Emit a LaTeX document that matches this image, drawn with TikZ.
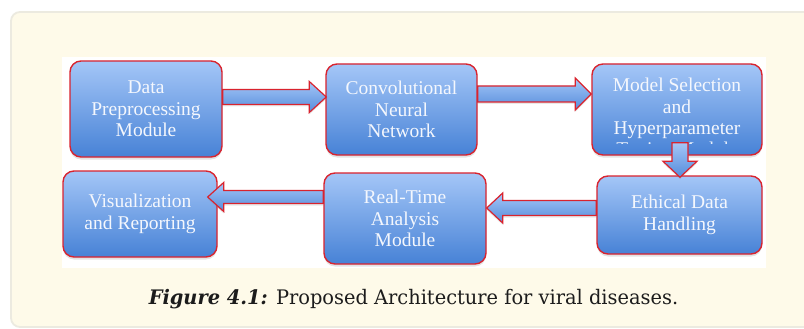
\documentclass[tikz,border=0pt]{standalone}
\usepackage{fontspec}
\setmainfont{Liberation Serif}
\newfontfamily\boxfont{Liberation Serif}
\newfontfamily\capfont[FakeStretch=0.97]{DejaVu Serif}
\usetikzlibrary{calc,shadows}

\definecolor{panelfill}{HTML}{FEFAE9}
\definecolor{panelline}{HTML}{ECEAE0}
\definecolor{boxtop}{HTML}{A4C6F7}
\definecolor{boxbot}{HTML}{4782D6}
\definecolor{boxline}{HTML}{D9232E}
\definecolor{capink}{HTML}{1C1C1C}
\definecolor{boxink}{HTML}{F4F7FD}

\tikzset{
  x=1pt, y=-1pt,
  module/.style={rounded corners=11pt, draw=boxline, line width=1.4pt,
    top color=boxtop, bottom color=boxbot, text=boxink, align=center,
    font=\boxfont\fontsize{19.5}{21.5}\selectfont, inner sep=0pt,
    drop shadow={opacity=0.22, shadow xshift=0pt, shadow yshift=-2.5pt}},
  boxtext/.style={text=boxink, align=center, font=\boxfont\fontsize{19.5}{21.5}\selectfont, inner sep=0pt},
  flowarrow/.style={draw=boxline, line width=1.2pt, line join=miter,
    top color=boxtop, bottom color=boxbot!85!boxtop,
    drop shadow={opacity=0.18, shadow xshift=0pt, shadow yshift=-2pt}},
}

% block arrow: tail, tip, shaft half-width, head half-width, head length
\newcommand{\blockarrow}[5]{%
  \coordinate (hb) at ($(#2)!#5!(#1)$);
  \path[flowarrow]
    ($(#1)!#3!90:(#2)$) -- ($(hb)!#3!-90:(#1)$) -- ($(hb)!#4!-90:(#1)$)
    -- (#2) -- ($(hb)!#4!90:(#1)$) -- ($(hb)!#3!90:(#1)$)
    -- ($(#1)!#3!-90:(#2)$) -- cycle;
}

\begin{document}
\begin{tikzpicture}
  \clip (0,0) rectangle (804,329);
  \fill[white] (0,0) rectangle (804,329);

  % cream caption panel and white figure area
  \draw[panelline, fill=panelfill, line width=1.8pt, rounded corners=9pt]
    (11,12) rectangle (840,327);
  \fill[white] (62,57) rectangle (766,268);

  % modules
  \node[module, minimum width=152pt, minimum height=96pt] (dp) at (146,109)
    {Data\\Preprocessing\\Module};
  \node[module, minimum width=151pt, minimum height=91pt] (cnn) at (401.5,109.5)
    {Convolutional\\Neural\\Network};
  \node[module, minimum width=170pt, minimum height=91pt] (ms) at (677,109.5) {};
  \node[boxtext] (mstext) at (677,108.5) {Model Selection\\and\\Hyperparameter};
  \begin{scope}
    \clip (600,80) rectangle (755,143.5);
    \node[boxtext, text=white!85!boxbot] (mscut) at (677,151) {Tuning Module};
  \end{scope}
  \node[module, minimum width=165pt, minimum height=78pt] (eth) at (679.5,215)
    {Ethical Data\\Handling};
  \node[module, minimum width=162pt, minimum height=91pt] (rt) at (405,218.5)
    {Real-Time\\Analysis\\Module};
  \node[module, minimum width=154pt, minimum height=86pt] (vis) at (140,214)
    {Visualization\\and Reporting};

  % flow arrows
  \coordinate (a1s) at ($(dp.east)+(0,-12)$);
  \coordinate (a1e) at ($(cnn.west)+(1,-12.5)$);
  \blockarrow{a1s}{a1e}{7.5pt}{15.5pt}{17pt}

  \coordinate (a2s) at ($(cnn.east)+(0,-15.5)$);
  \coordinate (a2e) at ($(ms.west)+(0,-15.5)$);
  \blockarrow{a2s}{a2e}{8pt}{16pt}{16pt}

  \coordinate (a3s) at ($(ms.south)+(3,-13)$);
  \coordinate (a3e) at ($(eth.north)+(0.5,2)$);
  \blockarrow{a3s}{a3e}{8pt}{17pt}{16pt}

  \coordinate (a4s) at ($(eth.west)+(0,-7)$);
  \coordinate (a4e) at ($(rt.east)+(0,-10.5)$);
  \blockarrow{a4s}{a4e}{7.5pt}{15pt}{16pt}

  \coordinate (a5s) at ($(rt.west)+(0,-21.5)$);
  \coordinate (a5e) at ($(vis.east)+(-10,-17)$);
  \blockarrow{a5s}{a5e}{6.5pt}{14.5pt}{16pt}

  % caption
  \node[text=capink, font=\capfont\fontsize{20}{24}\selectfont, anchor=base, inner sep=0pt]
    (cap) at (413.5,304) {\textbf{\textit{Figure 4.1:}} Proposed Architecture for viral diseases.};
\end{tikzpicture}
\end{document}
